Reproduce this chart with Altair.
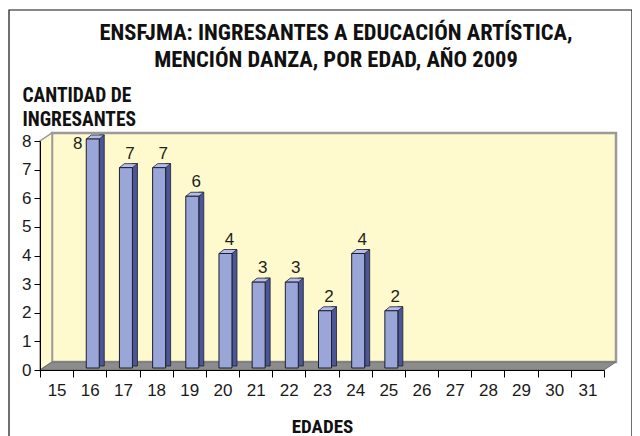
import altair as alt
import pandas as pd

# ---- data ----
edades = ["15", "16", "17", "18", "19", "20", "21", "22", "23",
          "24", "25", "26", "27", "28", "29", "30", "31"]
ingresantes = [0, 8, 7, 7, 6, 4, 3, 3, 2, 4, 2, 0, 0, 0, 0, 0, 0]
y_ticks = [0, 1, 2, 3, 4, 5, 6, 7, 8]
titulo = ["ENSFJMA: INGRESANTES A EDUCACIÓN ARTÍSTICA,",
          "MENCIÓN DANZA, POR EDAD, AÑO 2009"]
titulo_y = ["CANTIDAD DE", "INGRESANTES"]
titulo_x = "EDADES"

df = pd.DataFrame({"edad": edades, "n": ingresantes})
one = pd.DataFrame({"k": [0]})

W, H = 564, 229
NARROW = "Roboto Condensed, Liberation Sans Narrow, sans-serif"
REG = "Liberation Sans, Arial, sans-serif"

x_axis = alt.Axis(title=titulo_x, labelAngle=0, tickBand="extent",
                  tickSize=7, labelPadding=5, labelFontSize=17,
                  labelFont=REG, labelColor="#1a1a1a",
                  domainColor="#000", tickColor="#000", grid=False,
                  titleFont=NARROW, titleFontSize=19, titleFontWeight="bold",
                  titleColor="#111", titleY=62, titleX=W / 2,
                  titleBaseline="alphabetic", titleAlign="center", zindex=1)
y_axis = alt.Axis(values=y_ticks, grid=False, tickSize=6, labelPadding=3,
                  labelFontSize=17, labelFont=REG, labelColor="#1a1a1a",
                  domainColor="#000", tickColor="#000",
                  title=titulo_y, titleAngle=0, titleAlign="left",
                  titleBaseline="alphabetic", titleX=-18, titleY=-40,
                  titleLineHeight=24, titleFont=NARROW, titleFontSize=19.5,
                  titleFontWeight="bold", titleColor="#111", zindex=1)

x_enc = alt.X("edad:O", sort=edades,
              scale=alt.Scale(domain=edades, paddingInner=0, paddingOuter=0),
              axis=x_axis)
y_enc = alt.Y("n:Q", scale=alt.Scale(domain=[0, 8], nice=False), axis=y_axis)

# ---- decorations (frame, walls, floor, title) ----
border = alt.Chart(one).mark_rect(fill="white", stroke="#111", strokeWidth=1.2).encode(
    x=alt.value(-31), x2=alt.value(592), y=alt.value(-131), y2=alt.value(320))

back_wall = alt.Chart(one).mark_rect(fill="#FFFACD", stroke="#9A9A9A", strokeWidth=2.5).encode(
    x=alt.value(12), x2=alt.value(576), y=alt.value(-8), y2=alt.value(H - 8))

left_wall = alt.Chart(one).mark_point(
    shape=f"M0,0 L0,{-H} L12,{-H-8} L12,-8 Z", size=4, filled=True,
    fill="#FFFACD", stroke="#9A9A9A", strokeWidth=1.5, opacity=1
).encode(x=alt.value(0), y=alt.value(H))

floor = alt.Chart(one).mark_point(
    shape=f"M0,0 L12,-8 L{W+12},-8 L{W},0 Z", size=4, filled=True,
    fill="#8C8C8C", stroke="#6E6E6E", strokeWidth=1, opacity=1
).encode(x=alt.value(0), y=alt.value(H))

title_mark = alt.Chart(one).mark_text(
    text=titulo, lineHeight=27, baseline="alphabetic", align="center",
    font=NARROW, fontSize=22.5, fontWeight="bold", color="#111"
).encode(x=alt.value(296), y=alt.value(-101))

# ---- 3D bars ----
side = alt.Chart(df).transform_filter("datum.n > 0").mark_bar(
    size=5, xOffset=12, yOffset=-6, y2Offset=-4,
    fill="#4A5696", stroke="#1E1E2E", strokeWidth=0.8
).encode(x=x_enc, y=y_enc, y2=alt.datum(0))

top = alt.Chart(df).transform_filter("datum.n > 0").mark_point(
    shape="M-6.5,0 L6.5,0 L11.5,-4 L-1.5,-4 Z", size=4, filled=True,
    fill="#B4BDEA", stroke="#1E1E2E", strokeWidth=0.8, opacity=1,
    xOffset=3, yOffset=-2
).encode(x=x_enc, y=y_enc)

front = alt.Chart(df).transform_filter("datum.n > 0").mark_bar(
    size=13, xOffset=3, yOffset=-2, y2Offset=-2,
    fill="#9AA5D8", stroke="#1E1E2E", strokeWidth=1
).encode(x=x_enc, y=y_enc, y2=alt.datum(0))

labels = alt.Chart(df).transform_filter("datum.n > 0 && datum.n < 8").mark_text(
    dx=7, dy=-16, baseline="middle", fontSize=17, font=REG, color="#222"
).encode(x=x_enc, y=y_enc, text="n:Q")

labels_max = alt.Chart(df).transform_filter("datum.n >= 8").mark_text(
    dx=-12, dy=3, baseline="middle", fontSize=17, font=REG, color="#222"
).encode(x=x_enc, y=y_enc, text="n:Q")

chart = alt.layer(
    border, back_wall, left_wall, floor, title_mark,
    side, top, front, labels, labels_max
).properties(
    width=W, height=H,
    autosize=alt.AutoSizeParams(type="none"),
    padding={"left": 32, "top": 133, "right": 28, "bottom": 66},
    background="white",
).configure_view(stroke=None)

chart.save("out.html", embed_options={"renderer": "svg", "actions": False})
